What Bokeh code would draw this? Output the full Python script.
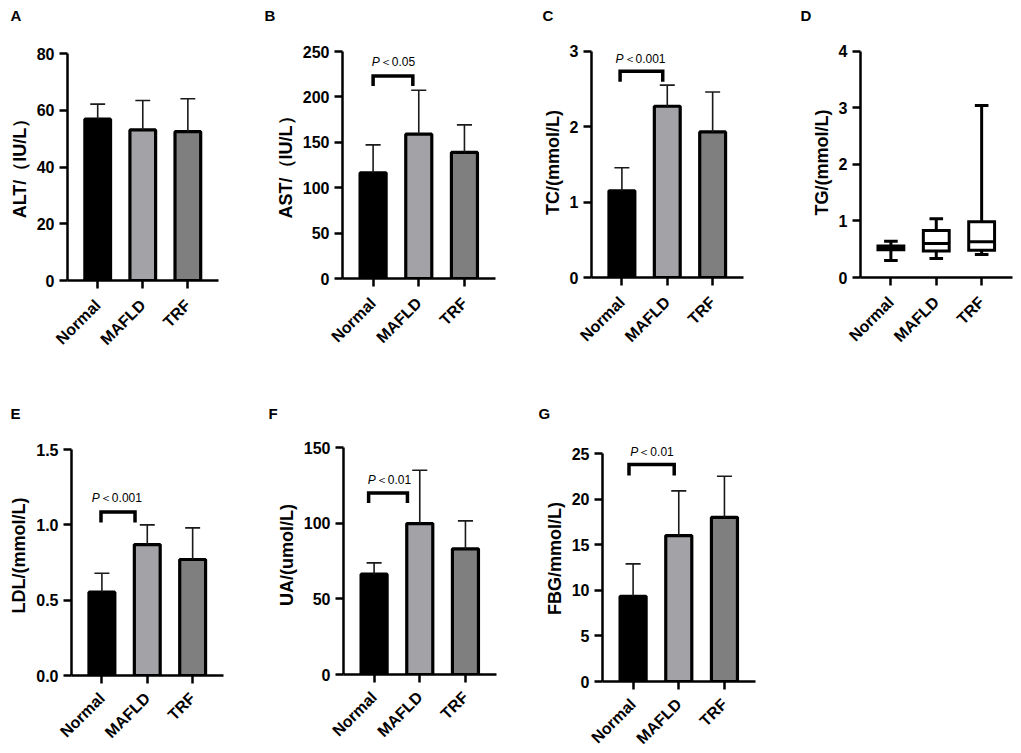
from math import pi
from bokeh.plotting import figure
from bokeh.models import FixedTicker, Label, Range1d, ColumnDataSource
from bokeh.layouts import row, column
from bokeh.embed import file_html
from bokeh.resources import INLINE

FONT = "Liberation Sans"

groups = ["Normal", "MAFLD", "TRF"]
fills = ["#000000", "#a3a3a7", "#7f7f7f"]

# Bar-panel data (mean, SD)
alt_mean = [56.9, 53.1, 52.5]
alt_sd = [5.3, 10.4, 11.6]
ast_mean = [116.4, 159.0, 138.8]
ast_sd = [30.8, 48.4, 30.4]
tc_mean = [1.15, 2.27, 1.93]
tc_sd = [0.305, 0.28, 0.53]
ldl_mean = [0.553, 0.869, 0.77]
ldl_sd = [0.126, 0.131, 0.21]
ua_mean = [66.4, 99.9, 83.2]
ua_sd = [7.5, 35.3, 18.5]
fbg_mean = [9.35, 16.0, 18.0]
fbg_sd = [3.55, 4.9, 4.5]

# Box-panel data (TG)
tg_min = [0.30, 0.335, 0.406]
tg_q1 = [0.49, 0.467, 0.48]
tg_med = [0.53, 0.60, 0.63]
tg_q3 = [0.556, 0.83, 0.985]
tg_max = [0.64, 1.04, 3.04]

XS = [0, 1, 2]
XR = (-0.67, 2.68)

ROW1_TOP, ROW1_FRAME, ROW1_H = 0, 47, 385
ROW2_TOP, ROW2_FRAME = 385, 435


def make_fig(L, R, FW, top_px, zero_px, row_top, frame_top, ymax, ticks, ylabel,
             letter, loff, lstand, lheight=1.0, canvas_h=None, overrides=None, standoff=14):
    fh = int(round(zero_px - frame_top))
    scale = (zero_px - top_px) / ymax
    T = frame_top - row_top
    B = (canvas_h - T - fh) if canvas_h else 0
    p = figure(frame_width=FW, frame_height=fh,
               min_border_left=L, min_border_right=R,
               min_border_top=T, min_border_bottom=B,
               x_range=Range1d(*XR), y_range=Range1d(0, fh / scale),
               output_backend="svg", toolbar_location=None)
    p.grid.visible = False
    p.outline_line_color = None
    p.background_fill_color = "white"
    for ax in (p.xaxis[0], p.yaxis[0]):
        ax.axis_line_width = 2.5
        ax.axis_line_color = "black"
        ax.major_tick_line_width = 2.5
        ax.major_tick_line_color = "black"
        ax.major_tick_out = 8
        ax.major_tick_in = 0
        ax.minor_tick_line_color = None
        ax.major_label_text_font = FONT
        ax.major_label_text_font_style = "bold"
        ax.major_label_text_color = "black"
        ax.major_label_text_font_size = "16px"
        ax.major_label_standoff = 5
    xa = p.xaxis[0]
    xa.ticker = FixedTicker(ticks=XS)
    xa.major_label_overrides = {i: g for i, g in zip(XS, groups)}
    xa.major_label_orientation = pi / 4
    xa.major_label_standoff = standoff
    ya = p.yaxis[0]
    ya.ticker = FixedTicker(ticks=ticks)
    ya.bounds = (0, ymax)
    if overrides:
        ya.major_label_overrides = overrides
    ya.axis_label = ylabel
    ya.axis_label_text_font = FONT
    ya.axis_label_text_font_style = "bold"
    ya.axis_label_text_font_size = "18px"
    ya.axis_label_text_color = "black"
    ya.axis_label_standoff = 4
    p.title.text = letter
    p.title.text_font = FONT
    p.title.text_font_style = "bold"
    p.title.text_font_size = "15px"
    p.title.text_color = "black"
    p.title.text_line_height = lheight
    p.title.align = "left"
    p.title.offset = loff
    p.title.standoff = lstand
    return p


def bars(p, means, sds):
    src = ColumnDataSource(dict(x=XS, top=means, fill=fills,
                                up=[m + s for m, s in zip(means, sds)],
                                cl=[x - 0.165 for x in XS], cr=[x + 0.165 for x in XS]))
    p.vbar(x="x", top="top", bottom=0, width=0.57, fill_color="fill",
           line_color="black", line_width=3.2, source=src)
    p.segment(x0="x", y0="top", x1="x", y1="up", line_color="#1a1a1a", line_width=1.6, source=src)
    p.segment(x0="cl", y0="up", x1="cr", y1="up", line_color="#1a1a1a", line_width=1.6, source=src)


def bracket(p, x0, x1, yt, yb, tx, ty, rest, split):
    p.line(x=[x0, x0, x1, x1], y=[yb, yt, yt, yb], line_color="black", line_width=3.5,
           line_join="miter")
    p.add_layout(Label(x=tx, y=ty, x_offset=split, text="P", text_font=FONT,
                       text_font_style="italic", text_font_size="12px", text_align="right",
                       text_baseline="middle", text_color="black"))
    p.add_layout(Label(x=tx, y=ty, x_offset=split, text=rest, text_font=FONT,
                       text_font_size="12px", text_align="left",
                       text_baseline="middle", text_color="black"))


r1 = dict(row_top=ROW1_TOP, frame_top=ROW1_FRAME, canvas_h=ROW1_H, lstand=2, lheight=1.34)
r2 = dict(row_top=ROW2_TOP, frame_top=ROW2_FRAME, lstand=28, standoff=12)

# Row 1
pa = make_fig(67, 44, 151, 53.5, 280.3, ymax=80, ticks=[0, 20, 40, 60, 80],
              ylabel="ALT/（IU/L）", letter="A\n", loff=-57, **r1)
bars(pa, alt_mean, alt_sd)

pb = make_fig(80, 17, 153, 50.7, 277.7, ymax=250, ticks=[0, 50, 100, 150, 200, 250],
              ylabel="AST/（IU/L）", letter="B\n", loff=-78, **r1)
bars(pb, ast_mean, ast_sd)
bracket(pb, 0.0, 0.87, 223, 212, 0.43, 238, "＜0.05", -13)

pc = make_fig(79, 32, 152, 51, 277.3, ymax=3, ticks=[0, 1, 2, 3],
              ylabel="TC/(mmol/L)", letter="C\n", loff=-49, **r1)
bars(pc, tc_mean, tc_sd)
bracket(pc, -0.04, 0.9, 2.735, 2.594, 0.41, 2.89, "＜0.001", -17)

pd_ = make_fig(85, 8, 152, 51, 277.3, ymax=4, ticks=[0, 1, 2, 3, 4],
               ylabel="TG/(mmol/L)", letter="D\n", loff=-60, **r1)
bsrc = ColumnDataSource(dict(x=XS, lo=tg_min, q1=tg_q1, med=tg_med, q3=tg_q3, hi=tg_max,
                             l=[x - 0.285 for x in XS], r=[x + 0.285 for x in XS],
                             cl=[x - 0.15 for x in XS], cr=[x + 0.15 for x in XS]))
pd_.segment(x0="x", y0="q3", x1="x", y1="hi", line_color="black", line_width=3, source=bsrc)
pd_.segment(x0="x", y0="lo", x1="x", y1="q1", line_color="black", line_width=3, source=bsrc)
pd_.segment(x0="cl", y0="hi", x1="cr", y1="hi", line_color="black", line_width=3, source=bsrc)
pd_.segment(x0="cl", y0="lo", x1="cr", y1="lo", line_color="black", line_width=3, source=bsrc)
pd_.quad(left="l", right="r", bottom="q1", top="q3", fill_color="white",
         line_color="black", line_width=3, line_join="miter", source=bsrc)
pd_.segment(x0="l", y0="med", x1="r", y1="med", line_color="black", line_width=3, source=bsrc)

# Row 2
pe = make_fig(71, 39, 152, 449.3, 675.3, ymax=1.5, ticks=[0, 0.5, 1.0, 1.5],
              ylabel="LDL/(mmol/L)", letter="E", loff=-61,
              overrides={0: "0.0", 0.5: "0.5", 1: "1.0", 1.5: "1.5"}, **r2)
bars(pe, ldl_mean, ldl_sd)
bracket(pe, -0.02, 0.73, 1.086, 1.015, 0.33, 1.18, "＜0.001", -17)

pf = make_fig(81, 16, 153, 447.7, 674.3, ymax=150, ticks=[0, 50, 100, 150],
              ylabel="UA/(umol/L)", letter="F", loff=-75, **r2)
bars(pf, ua_mean, ua_sd)
bracket(pf, -0.12, 0.73, 120.2, 113.6, 0.32, 128.6, "＜0.01", -13)

pg = make_fig(90, 25, 153, 453, 681, ymax=25, ticks=[0, 5, 10, 15, 20, 25],
              ylabel="FBG/mmol/L)", letter="G", loff=-64, **r2)
bars(pg, fbg_mean, fbg_sd)
bracket(pg, -0.09, 0.9, 23.8, 22.6, 0.40, 25.2, "＜0.01", -13)

layout = column(row(pa, pb, pc, pd_), row(pe, pf, pg), height=753, width=1021,
                styles={"overflow": "hidden"})
open("out.html", "w").write(file_html(layout, INLINE))
